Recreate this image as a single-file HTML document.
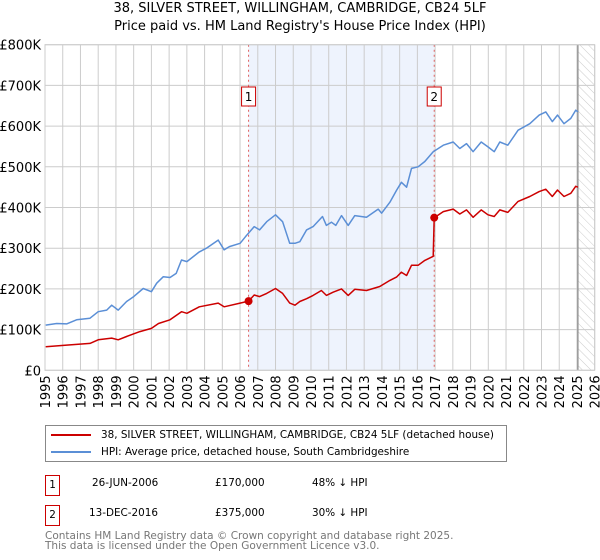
<!DOCTYPE html>
<html><head><meta charset="utf-8"><style>
body{margin:0;background:#fff;font-family:"DejaVu Sans","Liberation Sans",sans-serif;}
#wrap{position:relative;width:600px;height:560px;overflow:hidden;}
.t{position:absolute;white-space:nowrap;font-size:10.4px;color:#000;line-height:12px;}
.box{position:absolute;border:1px solid #c00;width:15px;height:21px;font-size:10.4px;text-align:center;line-height:19px;box-sizing:border-box;}
</style></head><body><div id="wrap">
<div class="t" style="left:0;width:600px;text-align:center;top:1px;font-size:13px;line-height:16px">38, SILVER STREET, WILLINGHAM, CAMBRIDGE, CB24 5LF</div>
<div class="t" style="left:0;width:600px;text-align:center;top:19px;font-size:13px;line-height:16px">Price paid vs. HM Land Registry's House Price Index (HPI)</div>
<svg id="chart" width="600" height="420" style="position:absolute;left:0;top:0" font-family="DejaVu Sans, Liberation Sans, sans-serif"></svg>
<div style="position:absolute;left:45px;top:425px;width:462px;height:37px;border:1px solid #888;box-sizing:border-box">
 <div style="position:absolute;left:5px;top:3px;height:14px;width:450px">
  <div style="position:absolute;left:0;top:5px;width:40px;height:2px;background:#c00"></div>
  <div class="t" style="left:50px;top:0px">38, SILVER STREET, WILLINGHAM, CAMBRIDGE, CB24 5LF (detached house)</div></div>
 <div style="position:absolute;left:5px;top:20px;height:14px;width:450px">
  <div style="position:absolute;left:0;top:5px;width:40px;height:2px;background:#5b8fd6"></div>
  <div class="t" style="left:50px;top:0px">HPI: Average price, detached house, South Cambridgeshire</div></div>
</div>
<div class="box" style="left:45px;top:475px">1</div>
<div class="t" style="left:92px;top:477px">26-JUN-2006</div>
<div class="t" style="left:215px;top:477px">£170,000</div>
<div class="t" style="left:312px;top:477px">48% ↓ HPI</div>
<div class="box" style="left:45px;top:505px">2</div>
<div class="t" style="left:89px;top:507px">13-DEC-2016</div>
<div class="t" style="left:215px;top:507px">£375,000</div>
<div class="t" style="left:312px;top:507px">30% ↓ HPI</div>
<div class="t" style="left:45px;top:531px;color:#777;font-size:10.5px;line-height:10px">Contains HM Land Registry data © Crown copyright and database right 2025.<br>This data is licensed under the Open Government Licence v3.0.</div>
</div>
<script>
const yTicks=[0,100000,200000,300000,400000,500000,600000,700000,800000];
const yTickLabels=["£0","£100K","£200K","£300K","£400K","£500K","£600K","£700K","£800K"];
const xYears=[1995,1996,1997,1998,1999,2000,2001,2002,2003,2004,2005,2006,2007,2008,2009,2010,2011,2012,2013,2014,2015,2016,2017,2018,2019,2020,2021,2022,2023,2024,2025,2026];
const saleDates=[2006.48,2016.95];
const salePrices=[170000,375000];
const hpiDates=[1995.04,1995.66,1996.22,1996.78,1997.54,1998.0,1998.48,1998.76,1999.13,1999.6,2000.0,2000.54,2001.0,2001.3,2001.67,2002.05,2002.4,2002.7,2003.0,2003.7,2004.1,2004.77,2005.1,2005.4,2006.0,2006.3,2006.8,2007.1,2007.5,2008.0,2008.4,2008.8,2009.1,2009.37,2009.75,2010.12,2010.65,2010.87,2011.15,2011.4,2011.72,2012.1,2012.47,2013.13,2013.79,2013.98,2014.45,2014.82,2015.1,2015.39,2015.67,2016.04,2016.42,2016.89,2017.46,2018.02,2018.39,2018.77,2019.14,2019.6,2019.98,2020.33,2020.65,2021.1,2021.68,2022.34,2022.87,2023.24,2023.61,2023.9,2024.27,2024.65,2024.93,2025.05];
const hpiValues=[111000,115000,114000,124000,128000,144000,148000,160000,148000,169000,181000,201000,193000,214000,230000,228000,238000,271000,267000,291000,300000,320000,296000,304000,312000,328000,353000,345000,365000,382000,365000,312000,312000,316000,345000,353000,378000,356000,364000,356000,380000,356000,380000,376000,396000,386000,413000,442000,462000,450000,496000,500000,513000,537000,553000,561000,545000,557000,537000,561000,549000,537000,561000,553000,590000,606000,627000,635000,611000,627000,606000,619000,639000,635000];
const ppDates=[1995.04,1996.22,1997.54,1998.0,1998.76,1999.13,1999.6,2000.35,2001.0,2001.4,2002.05,2002.7,2003.0,2003.7,2004.77,2005.1,2006.0,2006.48,2006.8,2007.1,2007.5,2008.0,2008.4,2008.8,2009.1,2009.37,2009.75,2010.12,2010.59,2010.87,2011.25,2011.72,2012.1,2012.47,2013.13,2013.88,2014.45,2014.82,2015.1,2015.39,2015.67,2016.04,2016.42,2016.89,2016.95,2017.46,2018.02,2018.39,2018.77,2019.14,2019.6,2019.98,2020.33,2020.65,2021.1,2021.68,2022.34,2022.87,2023.24,2023.61,2023.9,2024.27,2024.65,2024.93,2025.05];
const ppValues=[58000,62000,66000,75000,79000,75000,83000,95000,103000,115000,124000,144000,140000,156000,165000,156000,165000,170000,185000,181000,189000,201000,189000,165000,160000,169000,176000,184000,196000,184000,192000,200000,184000,199000,196000,206000,221000,229000,241000,233000,258000,258000,270000,280000,375000,390000,396000,384000,394000,376000,394000,382000,378000,394000,388000,415000,427000,439000,445000,427000,443000,427000,435000,452000,450000];
const svg=document.getElementById('chart'),NS='http://www.w3.org/2000/svg';
const X0=45,X1=594.7,Y0=370.3,Y1=44.7;
const xs=y=>X0+(y-1995)/(2026-1995)*(X1-X0);
const ys=v=>Y0-v/800000*(Y0-Y1);
function mk(tag,attrs,parent){const e=document.createElementNS(NS,tag);for(const k in attrs)e.setAttribute(k,attrs[k]);(parent||svg).appendChild(e);return e;}
const defs=mk('defs',{});
const pat=mk('pattern',{id:'hatch',width:6,height:6,patternUnits:'userSpaceOnUse',patternTransform:'rotate(-45)'},defs);
mk('line',{x1:0,y1:0,x2:0,y2:6,stroke:'#ccc','stroke-width':1},pat);
let r=mk('rect',{x:xs(saleDates[0]),y:Y1,width:xs(saleDates[1])-xs(saleDates[0]),height:Y0-Y1,fill:'#eef3fd'});


r=mk('rect',{x:xs(2025.05),y:Y1,width:X1-xs(2025.05),height:Y0-Y1,fill:'url(#hatch)'});


yTicks.forEach((v,i)=>{
  const l=mk('line',{x1:X0,x2:X1,y1:ys(v),y2:ys(v),stroke:'#ccc','stroke-width':1});
  
  
  const t=mk('text',{x:41,y:ys(v)+5,'text-anchor':'end','font-size':13,fill:'#000'});
  t.textContent=yTickLabels[i];
  
  
});
xYears.forEach(yr=>{
  const l=mk('line',{x1:xs(yr),x2:xs(yr),y1:Y1,y2:Y0,stroke:'#ccc','stroke-width':1});
  
  
  const t=mk('text',{x:0,y:0,'text-anchor':'end','font-size':13,fill:'#000',transform:`translate(${xs(yr)+5},${Y0+5}) rotate(-90)`});
  t.textContent=yr;
  
  
});
const vl=mk('line',{x1:xs(2025.05),x2:xs(2025.05),y1:Y1,y2:Y0,stroke:'#999','stroke-width':1.5});


saleDates.forEach((d,i)=>{
  const l=mk('line',{x1:xs(d),x2:xs(d),y1:Y1,y2:Y0,stroke:'#e06060','stroke-width':1,'stroke-dasharray':'2,3'});
  
  
});
function path(dates,vals,color,name){
  const p=mk('path',{d:dates.map((d,i)=>(i?'L':'M')+xs(d).toFixed(1)+','+ys(vals[i]).toFixed(1)).join(''),fill:'none',stroke:color,'stroke-width':1.5,'stroke-linejoin':'round'});
  
  
}
path(hpiDates,hpiValues,'#5b8fd6','hpi-line');
path(ppDates,ppValues,'#cc0000','property-price-line');
saleDates.forEach((d,i)=>{
  const c=mk('circle',{cx:xs(d),cy:ys(salePrices[i]),r:4,fill:'#cc0000'});
  
  
  const g=mk('g',{});
  
  
  mk('rect',{x:xs(d)-7,y:87,width:14,height:19,fill:'#fff',stroke:'#c00','stroke-width':1},g);
  const t=mk('text',{x:xs(d),y:101,'text-anchor':'middle','font-size':12,fill:'#000'},g);
  t.textContent=String(i+1);
});
const bx=mk('rect',{x:X0,y:Y1,width:X1-X0,height:Y0-Y1,fill:'none',stroke:'#ccc'});


</script></body></html>
